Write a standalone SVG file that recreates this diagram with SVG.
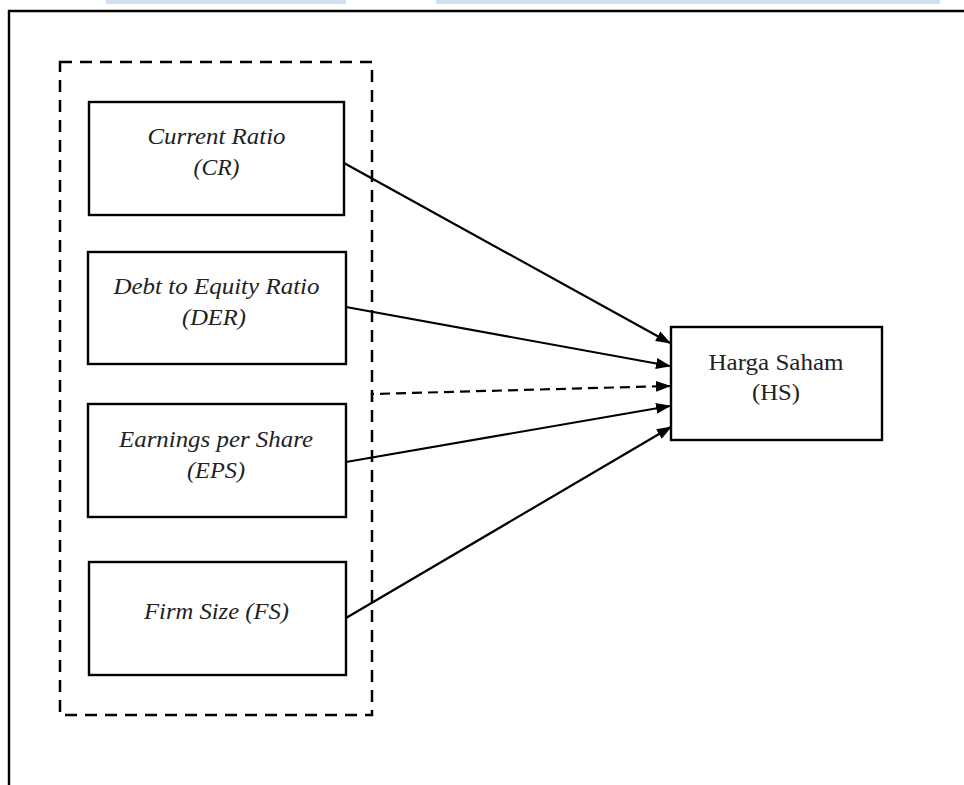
<svg xmlns="http://www.w3.org/2000/svg" width="964" height="785" viewBox="0 0 964 785">
<defs>
<marker id="ah" markerUnits="userSpaceOnUse" markerWidth="15" markerHeight="11" refX="14" refY="5.5" orient="auto">
<path d="M0,0 L15,5.5 L0,11 z" fill="#000"/>
</marker>
<style>
.box{fill:#fff;stroke:#000;stroke-width:2.4}
.it{font-family:"Liberation Serif",serif;font-style:italic;font-size:23px;fill:#222;text-anchor:middle}
.rg{font-family:"Liberation Serif",serif;font-size:23px;fill:#222;text-anchor:middle}
.ln{stroke:#000;stroke-width:2.2;fill:none}
</style>
</defs>
<rect width="964" height="785" fill="#fff"/>
<rect x="106" y="0" width="240" height="4" fill="#cfe0f0"/>
<rect x="436" y="0" width="504" height="4" fill="#cfe0f0"/>
<path d="M9,785 V11 H964" fill="none" stroke="#000" stroke-width="2.4"/>
<g id="group">
<rect x="60" y="62" width="312" height="653" fill="none" stroke="#000" stroke-width="2.5" stroke-dasharray="12 8"/>
</g>
<g id="cr">
<rect class="box" x="89" y="102" width="255" height="113"/>
<text class="it" x="216.5" y="144" textLength="138" lengthAdjust="spacingAndGlyphs">Current Ratio</text>
<text class="it" x="216.5" y="175" textLength="46" lengthAdjust="spacingAndGlyphs">(CR)</text>
</g>
<g id="der">
<rect class="box" x="88" y="252" width="258" height="112"/>
<text class="it" x="216.5" y="294" textLength="206" lengthAdjust="spacingAndGlyphs">Debt to Equity Ratio</text>
<text class="it" x="214" y="325" textLength="64" lengthAdjust="spacingAndGlyphs">(DER)</text>
</g>
<g id="eps">
<rect class="box" x="88" y="404" width="258" height="113"/>
<text class="it" x="216" y="447" textLength="194" lengthAdjust="spacingAndGlyphs">Earnings per Share</text>
<text class="it" x="216" y="478" textLength="58" lengthAdjust="spacingAndGlyphs">(EPS)</text>
</g>
<g id="fs">
<rect class="box" x="89" y="562" width="257" height="113"/>
<text class="it" x="216.5" y="619" textLength="145" lengthAdjust="spacingAndGlyphs">Firm Size (FS)</text>
</g>
<g id="hs">
<rect class="box" x="671" y="327" width="211" height="113"/>
<text class="rg" x="776" y="370" textLength="135" lengthAdjust="spacingAndGlyphs">Harga Saham</text>
<text class="rg" x="776" y="400" textLength="48" lengthAdjust="spacingAndGlyphs">(HS)</text>
</g>
<g id="connectors">
<line class="ln" x1="344" y1="163" x2="670" y2="343" marker-end="url(#ah)"/>
<line class="ln" x1="346" y1="307" x2="670" y2="366" marker-end="url(#ah)"/>
<path class="ln" d="M372,402 V394 L670,386" stroke-dasharray="10 6" marker-end="url(#ah)"/>
<line class="ln" x1="346" y1="462" x2="670" y2="406" marker-end="url(#ah)"/>
<line class="ln" x1="346" y1="618" x2="671" y2="427" marker-end="url(#ah)"/>
</g>
</svg>
